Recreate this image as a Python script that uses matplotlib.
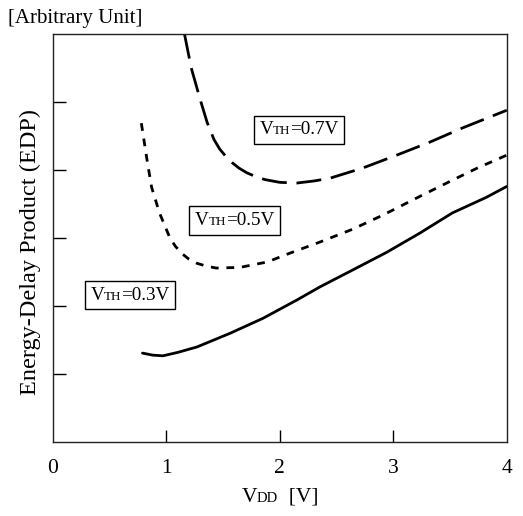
import matplotlib
matplotlib.use("Agg")
import matplotlib.pyplot as plt
from matplotlib.offsetbox import TextArea, HPacker, AnnotationBbox

plt.rcParams["font.family"] = ["Liberation Serif", "DejaVu Serif"]

# EDP curves read per threshold voltage (arbitrary units)
vdd_07 = [1.16, 1.22, 1.30, 1.36, 1.42, 1.47, 1.52, 1.58, 1.64, 1.71, 1.78, 1.87, 2.00, 2.15, 2.30, 2.44, 2.73, 3.03, 3.32, 3.61, 4.00]
edp_07 = [6.00, 5.50, 5.03, 4.70, 4.45, 4.31, 4.21, 4.11, 4.03, 3.96, 3.91, 3.86, 3.82, 3.81, 3.84, 3.88, 4.03, 4.22, 4.41, 4.62, 4.88]

vdd_05 = [0.78, 0.83, 0.87, 0.94, 1.03, 1.08, 1.14, 1.20, 1.27, 1.35, 1.44, 1.65, 1.89, 2.09, 2.35, 2.64, 2.91, 3.17, 3.47, 3.74, 4.00]
edp_05 = [4.69, 4.15, 3.75, 3.37, 3.01, 2.88, 2.77, 2.69, 2.63, 2.59, 2.56, 2.57, 2.65, 2.78, 2.94, 3.13, 3.34, 3.56, 3.81, 4.03, 4.22]

vdd_03 = [0.79, 0.88, 0.97, 1.10, 1.27, 1.56, 1.85, 2.15, 2.35, 2.64, 2.94, 3.23, 3.52, 3.82, 4.00]
edp_03 = [1.31, 1.28, 1.27, 1.32, 1.40, 1.60, 1.82, 2.09, 2.28, 2.53, 2.79, 3.07, 3.37, 3.60, 3.76]

x_ticks = [1, 2, 3]
x_labels = ["0", "1", "2", "3", "4"]
y_ticks = [1, 2, 3, 4, 5]

# label text, position in data coords
labels = [("0.7V", 2.17, 4.59), ("0.5V", 1.60, 3.26), ("0.3V", 0.68, 2.16)]

fig = plt.figure(figsize=(5.23, 5.16), dpi=100)
ax = fig.add_axes([0.101, 0.143, 0.868, 0.791])

ax.plot(vdd_07, edp_07, color="black", lw=2.0, linestyle=(0, (9, 3.5)))
ax.plot(vdd_05, edp_05, color="black", lw=2.0, linestyle=(0, (2.8, 2.8)))
ax.plot(vdd_03, edp_03, color="black", lw=2.0, solid_capstyle="round")

ax.set_xlim(0, 4)
ax.set_ylim(0, 6)
ax.set_xticks(x_ticks)
ax.set_xticklabels([])
ax.set_yticks(y_ticks)
ax.set_yticklabels([])
ax.tick_params(direction="in", length=9, width=1, top=False, right=False)
for s in ax.spines.values():
    s.set_linewidth(1.0)
    s.set_color("#222222")

# tick numbers placed under the frame, including both ends
for i, t in enumerate(x_labels):
    ax.text(i, -0.25, t, ha="center", va="top", fontsize=15.5)


def vlabel(main, sub, rest, size=15):
    parts = [TextArea(main, textprops=dict(size=size)),
             TextArea(sub, textprops=dict(size=size * 0.68))]
    if rest:
        parts.append(TextArea(rest, textprops=dict(size=size)))
    return HPacker(children=parts, align="baseline", pad=0, sep=0)


for val, x, y in labels:
    box = AnnotationBbox(vlabel("V", "TH", "=" + val, 13.8), (x, y), xycoords="data",
                         frameon=True, pad=0.4, box_alignment=(0.5, 0.5),
                         bboxprops=dict(edgecolor="black", facecolor="white", lw=1.0))
    ax.add_artist(box)

xl = AnnotationBbox(vlabel("V", "DD", "  [V]", 15.5), (280 / 523, 1 - 497 / 516),
                    xycoords="figure fraction", frameon=False, pad=0,
                    box_alignment=(0.5, 0.5))
fig.add_artist(xl)

fig.text(30 / 523, 1 - 252 / 516, "Energy-Delay Product (EDP)",
         rotation=90, ha="center", va="center", fontsize=17.5)
fig.text(8 / 523, 1 - 18 / 516, "[Arbitrary Unit]", ha="left", va="center", fontsize=15)

fig.savefig("out.png", dpi=100)
